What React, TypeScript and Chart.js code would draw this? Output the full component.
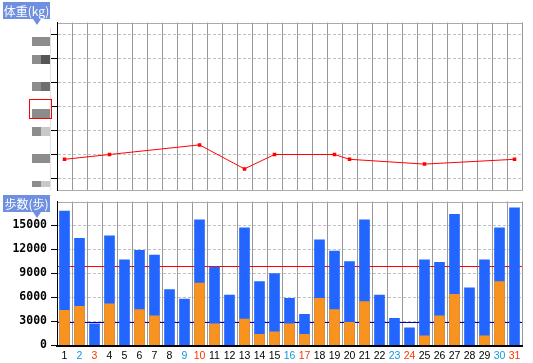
import React, { useEffect, useRef } from 'react';
import { Chart, registerables } from 'chart.js';

Chart.register(...registerables);

// ---------- data ----------
const days = ['1','2','3','4','5','6','7','8','9','10','11','12','13','14','15','16','17','18','19','20','21','22','23','24','25','26','27','28','29','30','31'];
const saturdays = ['2', '9', '16', '23', '30'];
const sundays = ['3', '10', '17', '24', '31'];

const weightKg: (number | null)[] = [
  59.8, null, null, 60.0, null, null, null, null, null, 60.4,
  null, null, 59.4, null, 60.0, null, null, null, 60.0, 59.8,
  null, null, null, null, 59.6, null, null, null, null, null, 59.8,
];
const weightTicks = [59, 60, 61, 62, 63, 64, 65];
const weightMin = 58.5;
const weightMax = 65.5;

const totalSteps = [
  16800, 13400, 2700, 13700, 10700, 11900, 11300, 7000, 5800, 15700,
  9800, 6300, 14700, 8000, 9000, 5900, 3900, 13200, 11800, 10500,
  15700, 6300, 3400, 2200, 10700, 10400, 16400, 7200, 10700, 14700, 17200,
];
const partSteps = [
  4400, 4900, 0, 5200, 0, 4500, 3700, 0, 0, 7800,
  2700, 0, 3300, 1400, 1700, 2700, 1400, 5900, 4500, 2900,
  5500, 0, 0, 0, 1200, 3700, 6400, 0, 1200, 8000, 0,
];
const stepTicks = [0, 3000, 6000, 9000, 12000, 15000];
const stepMax = 18000;
const stepGoal = 10000;
const stepLow = 3000;

// ---------- styles ----------
const BADGE = '#6f8fe0';
const GRID_V = '#999999';
const GRID_H = '#c0c0c0';
const FRAME = '#aaaaaa';
const BLUE = '#2266ff';
const ORANGE = '#f7931e';

const noPad = (s: any) => {
  s.paddingTop = 0;
  s.paddingBottom = 0;
  s.paddingLeft = 0;
  s.paddingRight = 0;
};

const framePlugin = {
  id: 'frame',
  beforeDatasetsDraw(chart: any) {
    const { ctx, chartArea } = chart;
    ctx.save();
    ctx.strokeStyle = FRAME;
    ctx.lineWidth = 1;
    ctx.beginPath();
    const t = Math.round(chartArea.top) + 0.5;
    ctx.moveTo(chartArea.left, t);
    ctx.lineTo(chartArea.right, t);
    ctx.stroke();
    ctx.restore();
  },
};

const refLinesPlugin = {
  id: 'refLines',
  beforeDatasetsDraw(chart: any) {
    const { ctx, chartArea, scales } = chart;
    const lines = [
      { v: stepGoal, c: '#ff0000' },
      { v: stepLow, c: '#0000cc' },
    ];
    ctx.save();
    ctx.lineWidth = 1;
    for (const l of lines) {
      const y = Math.round(scales.y.getPixelForValue(l.v)) + 0.5;
      ctx.strokeStyle = l.c;
      ctx.beginPath();
      ctx.moveTo(chartArea.left, y);
      ctx.lineTo(chartArea.right, y);
      ctx.stroke();
    }
    ctx.restore();
  },
};

function WeightChart() {
  const ref = useRef<HTMLCanvasElement>(null);
  useEffect(() => {
    if (!ref.current) return;
    const chart = new Chart(ref.current, {
      type: 'line',
      data: {
        labels: days,
        datasets: [
          {
            data: weightKg,
            borderColor: '#ff0000',
            borderWidth: 1,
            pointStyle: 'rect',
            pointRadius: 2.5,
            pointBorderWidth: 0,
            pointBackgroundColor: '#ff0000',
            spanGaps: true,
            tension: 0,
          },
        ],
      },
      options: {
        animation: false,
        responsive: false,
        maintainAspectRatio: false,
        layout: { padding: { top: 22.5, right: 11, bottom: 4.5, left: 0 } },
        plugins: { legend: { display: false }, tooltip: { enabled: false } },
        scales: {
          x: {
            offset: true,
            grid: { offset: true, color: GRID_V, lineWidth: 1, drawTicks: false },
            ticks: { display: false },
            border: { display: true, color: FRAME, width: 1, z: 1 },
            afterFit: (s: any) => { s.height = 0; noPad(s); },
          },
          y: {
            min: weightMin,
            max: weightMax,
            afterBuildTicks: (s: any) => { s.ticks = weightTicks.map((v) => ({ value: v })); },
            grid: { color: GRID_H, lineWidth: 1, tickColor: '#000', tickLength: 6, tickBorderDash: [] },
            border: { display: true, color: '#000', width: 1, dash: [3, 2], z: 1 },
            ticks: { callback: () => '' },
            afterFit: (s: any) => { s.width = 57; noPad(s); },
          },
        },
      },
      plugins: [framePlugin],
    } as any);
    return () => chart.destroy();
  }, []);
  return <canvas ref={ref} width={533} height={195} style={{ position: 'absolute', left: 0, top: 0, width: 533, height: 195 }} />;
}

function StepsChart() {
  const ref = useRef<HTMLCanvasElement>(null);
  useEffect(() => {
    if (!ref.current) return;
    const chart = new Chart(ref.current, {
      type: 'bar',
      data: {
        labels: days,
        datasets: [
          { data: partSteps, backgroundColor: ORANGE, barThickness: 10, grouped: false },
          { data: totalSteps, backgroundColor: BLUE, barThickness: 10, grouped: false },
        ],
      },
      options: {
        animation: false,
        responsive: false,
        maintainAspectRatio: false,
        layout: { padding: { top: 6.5, right: 11, bottom: 0, left: 0 } },
        plugins: { legend: { display: false }, tooltip: { enabled: false } },
        scales: {
          x: {
            offset: true,
            grid: { offset: true, color: GRID_V, lineWidth: 1, drawTicks: false },
            border: { display: true, color: '#000', width: 2, z: 1 },
            ticks: {
              padding: 4,
              maxRotation: 0,
              autoSkip: false,
              font: { family: '"Liberation Sans", Arial, sans-serif', size: 10.5 },
              color: (c: any) => {
                const d = days[c.index];
                if (saturdays.includes(d)) return '#1199dd';
                if (sundays.includes(d)) return '#ff3300';
                return '#000';
              },
            },
            afterFit: (s: any) => { s.height = 17.5; noPad(s); },
          },
          y: {
            min: 0,
            max: stepMax,
            afterBuildTicks: (s: any) => { s.ticks = stepTicks.map((v) => ({ value: v })); },
            grid: { color: GRID_H, lineWidth: 1, tickColor: '#000', tickLength: 6, tickBorderDash: [] },
            border: { display: true, color: '#000', width: 1, dash: [3, 2], z: 1 },
            ticks: {
              padding: 4,
              color: '#000',
              callback: (v: any) => String(v),
              font: { family: '"DejaVu Sans Mono", monospace', size: 11.5, weight: 'bold' },
            },
            afterFit: (s: any) => { s.width = 57; noPad(s); },
          },
        },
      },
      plugins: [framePlugin, refLinesPlugin],
    } as any);
    return () => chart.destroy();
  }, []);
  return <canvas ref={ref} width={533} height={168} style={{ position: 'absolute', left: 0, top: 195, width: 533, height: 168 }} />;
}

function Badge({ text, top }: { text: string; top: number }) {
  return (
    <>
      <div
        style={{
          position: 'absolute', left: 3, top, width: 47, height: 17,
          background: BADGE, color: '#fff', textAlign: 'center',
          font: '12px "Noto Sans CJK JP", sans-serif', lineHeight: '17px', whiteSpace: 'nowrap',
        }}
      >
        {text}
      </div>
      <div
        style={{
          position: 'absolute', left: 33, top: top + 17, width: 0, height: 0,
          borderLeft: '4.5px solid transparent', borderRight: '4.5px solid transparent',
          borderTop: `6px solid ${BADGE}`,
        }}
      />
    </>
  );
}

// masked (image) labels of the weight axis: [top, height, rightColor]
const maskRows: [number, number, string][] = [
  [37, 9, '#8c8c8c'],
  [55, 9, '#555555'],
  [82, 9, '#6e6e6e'],
  [109, 9, '#8c8c8c'],
  [127, 9, '#c8c8c8'],
  [154, 9, '#8c8c8c'],
  [181, 6, '#c8c8c8'],
];

export default function App() {
  return (
    <div style={{ position: 'fixed', left: 0, top: 0, width: 533, height: 363, background: '#fff', overflow: 'hidden' }}>
      <WeightChart />
      <StepsChart />
      <div style={{ position: 'absolute', left: 50, top: 28, width: 1, height: 162, background: '#e2e2e2' }} />
      {maskRows.map(([t, h, c], i) => (
        <div key={i} style={{ position: 'absolute', left: 32, top: t, width: 18, height: h, display: 'flex' }}>
          <div style={{ width: 9, height: h, background: '#8c8c8c' }} />
          <div style={{ width: 9, height: h, background: c }} />
        </div>
      ))}
      <div style={{ position: 'absolute', left: 29, top: 99, width: 21, height: 18, border: '1px solid #ff0000' }} />
      <Badge text="体重(kg)" top={2} />
      <Badge text="歩数(歩)" top={195} />
    </div>
  );
}
